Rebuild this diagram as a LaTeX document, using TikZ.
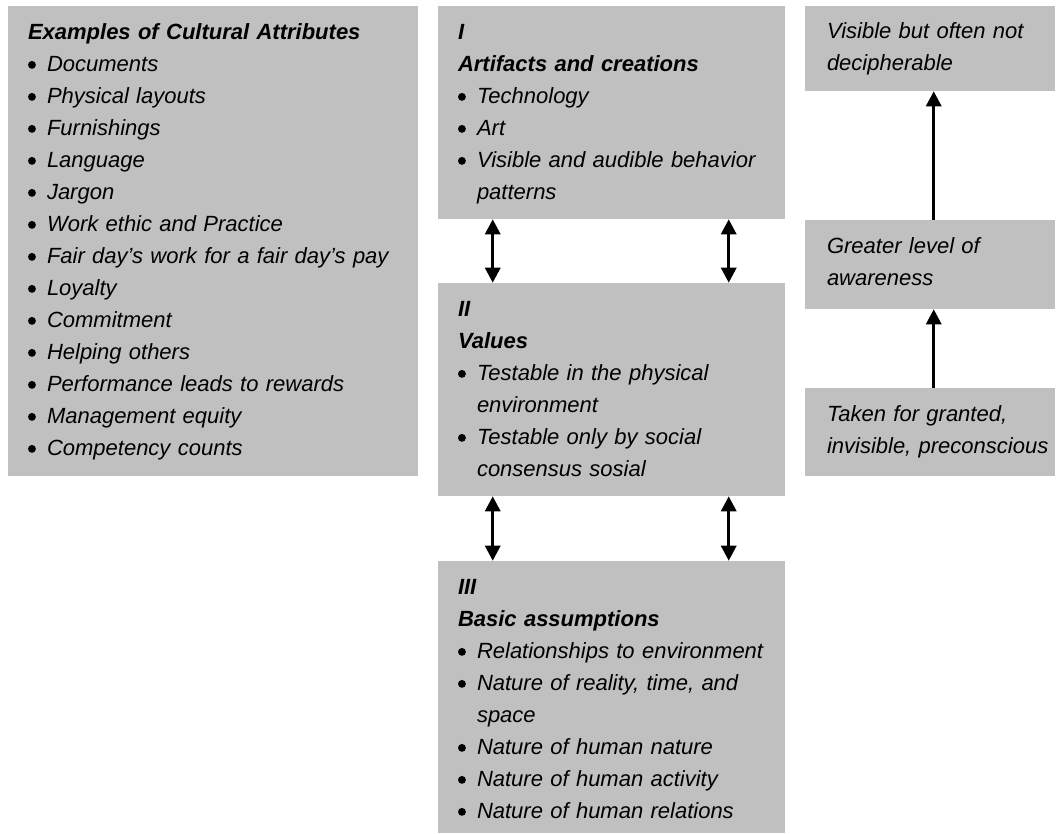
\documentclass[tikz,border=0pt]{standalone}
\usepackage{fontspec}
\setmainfont{Liberation Sans}
\usetikzlibrary{arrows.meta,fit,calc}
\definecolor{boxgray}{RGB}{192,192,192}
\setlength{\parindent}{0pt}
\newcommand\bul{\tikz[baseline=0pt,x=1pt,y=1pt]\fill[black] (2.95,4.6) circle (2.95);}
\newcommand\bitem[1]{\par\hangindent=14.25pt\hangafter=1\makebox[14.25pt][l]{\bul}#1}
\newcommand\nl{\break}
\newcommand\hd[1]{\textbf{#1}}
\newcommand\fs{\rule{0pt}{18pt}}
\begin{document}
\begin{tikzpicture}[x=0.75pt,y=-0.75pt,
  box/.style={fill=boxgray, draw=none, inner sep=0pt},
  txt/.style={anchor=north west, inner sep=0pt, text width=300pt, align=left,
    font=\fontsize{16.5pt}{24pt}\selectfont\itshape},
  dbl/.style={line width=2.25pt,
    {Triangle[width=11.25pt,length=11.25pt]}-{Triangle[width=11.25pt,length=11.25pt]}},
  up/.style={line width=2.25pt, -{Triangle[width=11.25pt,length=11.25pt]}}]
\useasboundingbox (0,0) rectangle (1056,833);
% boxes
\node[box, fit={(8,6) (418,476)}] (attr) {};
\node[box, fit={(438,6) (785,219)}] (art) {};
\node[box, fit={(438,283) (785,496)}] (val) {};
\node[box, fit={(438,561) (785,833)}] (bas) {};
\node[box, fit={(805,6) (1055,91)}] (vis) {};
\node[box, fit={(805,220) (1055,309)}] (gre) {};
\node[box, fit={(805,388) (1055,476)}] (tak) {};
% texts
\node[txt] (attrT) at ($(attr.north west)+(20,9)$) {\fs\hd{Examples of Cultural Attributes}
  \bitem{Documents}
  \bitem{Physical layouts}
  \bitem{Furnishings}
  \bitem{Language}
  \bitem{Jargon}
  \bitem{Work ethic and Practice}
  \bitem{Fair day’s work for a fair day’s pay}
  \bitem{Loyalty}
  \bitem{Commitment}
  \bitem{Helping others}
  \bitem{Performance leads to rewards}
  \bitem{Management equity}
  \bitem{Competency counts}\par};
\node[txt] (artT) at ($(art.north west)+(20,9)$) {\fs\hd{I}\par
  \hd{Artifacts and creations}
  \bitem{Technology}
  \bitem{Art}
  \bitem{Visible and audible behavior\nl patterns}\par};
\node[txt] (valT) at ($(val.north west)+(20,9)$) {\fs\hd{II}\par
  \hd{Values}
  \bitem{Testable in the physical\nl environment}
  \bitem{Testable only by social\nl consensus sosial}\par};
\node[txt] (basT) at ($(bas.north west)+(20,9)$) {\fs\hd{III}\par
  \hd{Basic assumptions}
  \bitem{Relationships to environment}
  \bitem{Nature of reality, time, and\nl space}
  \bitem{Nature of human nature}
  \bitem{Nature of human activity}
  \bitem{Nature of human relations}\par};
\node[txt] (visT) at ($(vis.north west)+(22,8)$) {\fs Visible but often not\\decipherable\par};
\node[txt] (greT) at ($(gre.north west)+(22,9)$) {\fs Greater level of\\awareness\par};
\node[txt] (takT) at ($(tak.north west)+(22,9)$) {\fs Taken for granted,\\invisible, preconscious\par};
% connectors
\draw[dbl] ($(art.south west)+(55,0)$) -- ($(val.north west)+(55,0)$);
\draw[dbl] ($(art.south west)+(291,0)$) -- ($(val.north west)+(291,0)$);
\draw[dbl] ($(val.south west)+(55,0)$) -- ($(bas.north west)+(55,0)$);
\draw[dbl] ($(val.south west)+(291,0)$) -- ($(bas.north west)+(291,0)$);
\draw[up] ($(gre.north west)+(129,0)$) -- ($(vis.south west)+(129,0)$);
\draw[up] ($(tak.north west)+(129,0)$) -- ($(gre.south west)+(129,0)$);
\end{tikzpicture}
\end{document}
